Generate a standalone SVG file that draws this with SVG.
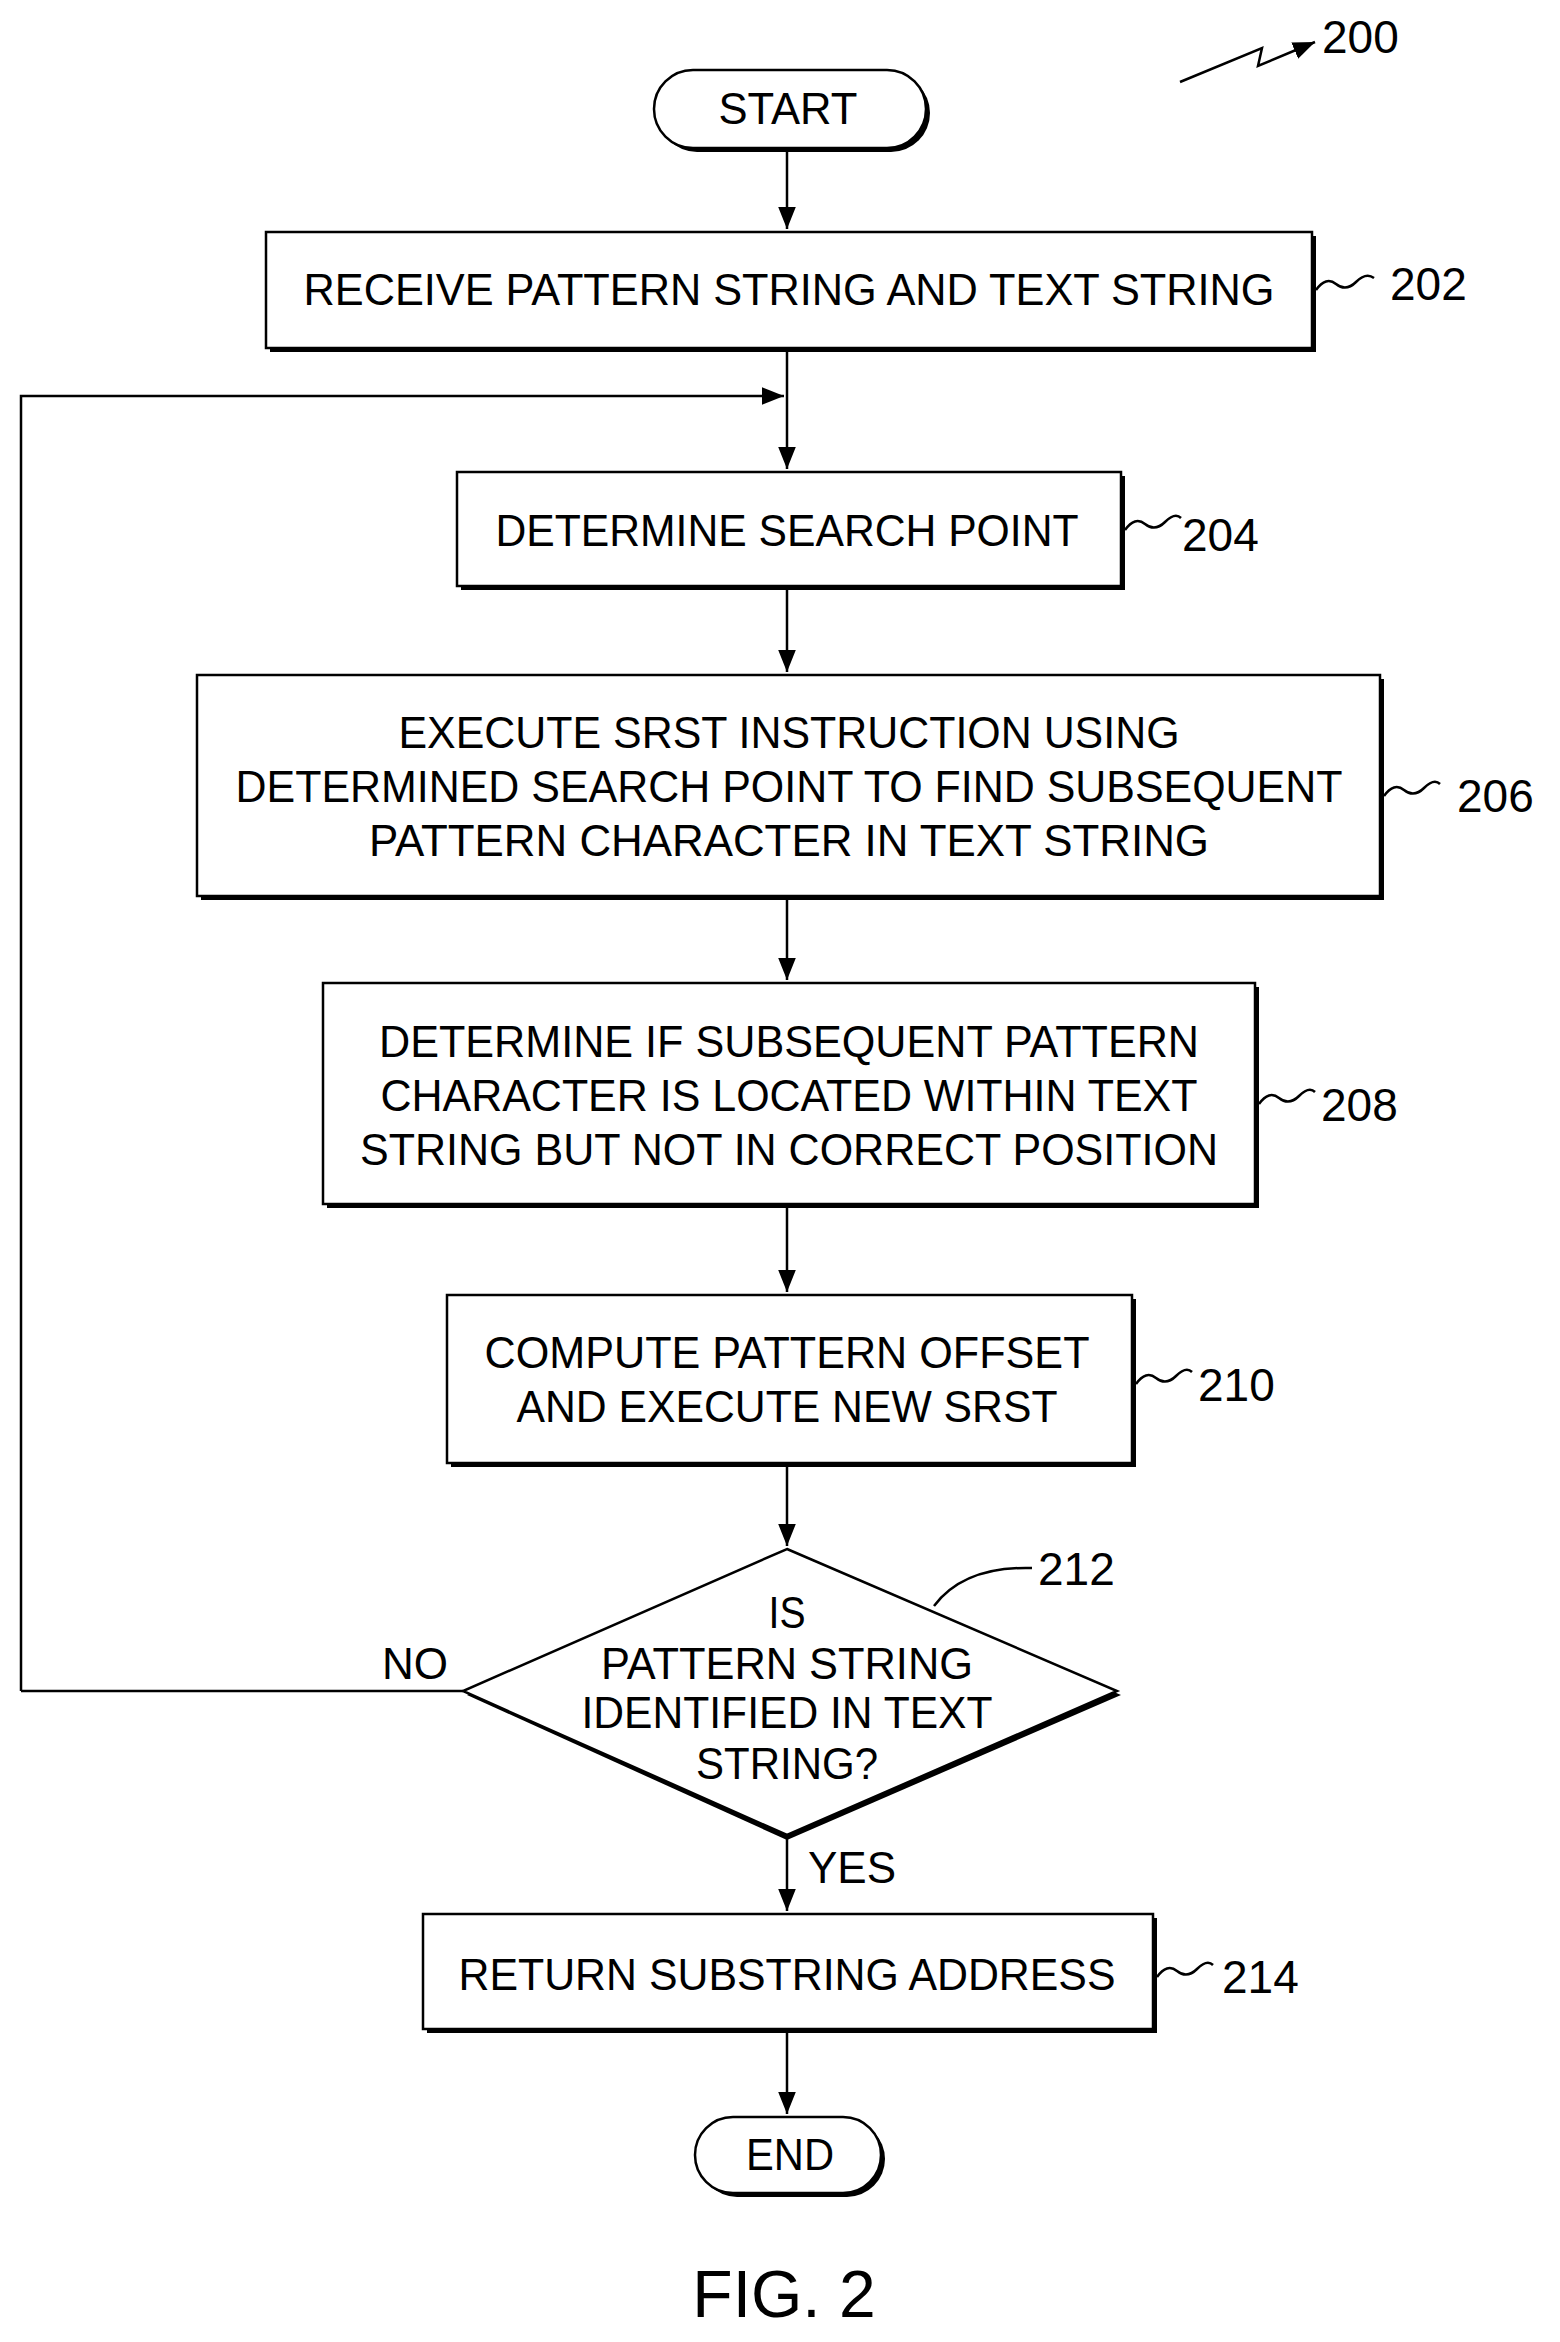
<svg xmlns="http://www.w3.org/2000/svg" width="1560" height="2342" viewBox="0 0 1560 2342">
<defs>
<style>
.b{fill:#fff;stroke:#000;stroke-width:2.5}
.s{fill:#000}
.l{fill:none;stroke:#000;stroke-width:2.5}
text{font-family:"Liberation Sans",Arial,sans-serif;font-size:44px;fill:#000;text-anchor:middle}
.r{font-size:46px;text-anchor:start}
</style>
<marker id="a" viewBox="0 0 10 10" refX="10" refY="5" markerWidth="12" markerHeight="12" markerUnits="userSpaceOnUse" orient="auto"><path d="M0,0 L10,5 L0,10 z"/></marker>
<marker id="ah" viewBox="0 0 10 10" refX="10" refY="5" markerWidth="22" markerHeight="22" markerUnits="userSpaceOnUse" orient="auto"><path d="M0,1 L10,5 L0,9 z"/></marker>
</defs>
<rect width="1560" height="2342" fill="#fff"/>
<g id="connectors">
<path class="l" d="M787,148 V229" marker-end="url(#ah)"/>
<path class="l" d="M787,348 V469" marker-end="url(#ah)"/>
<path class="l" d="M21,1691 H463 M21,1691 V396 H784" marker-end="url(#ah)"/>
<path class="l" d="M787,586 V672" marker-end="url(#ah)"/>
<path class="l" d="M787,896 V980" marker-end="url(#ah)"/>
<path class="l" d="M787,1204 V1292" marker-end="url(#ah)"/>
<path class="l" d="M787,1463 V1546" marker-end="url(#ah)"/>
<path class="l" d="M787,1835 V1911" marker-end="url(#ah)"/>
<path class="l" d="M787,2029 V2114" marker-end="url(#ah)"/>
<text x="415" y="1679">NO</text>
<text x="852" y="1883">YES</text>
</g>
<g id="n200"><path class="l" d="M1180,82 L1262,48 L1258,66 L1315,42" marker-end="url(#ah)"/><text class="r" x="1322" y="53">200</text></g>
<g id="start"><rect class="s" x="658" y="74" width="272" height="78" rx="39"/><rect class="b" x="654" y="70" width="272" height="78" rx="39"/><text x="788" y="124" textLength="139" lengthAdjust="spacingAndGlyphs">START</text></g>
<g id="n202"><rect class="s" x="270" y="236" width="1046" height="116"/><rect class="b" x="266" y="232" width="1046" height="116"/><text x="789" y="305" textLength="971" lengthAdjust="spacingAndGlyphs">RECEIVE PATTERN STRING AND TEXT STRING</text><path class="l" d="M1316,290 q10,-14 20,-6 t20,-2 t18,-4"/><text class="r" x="1390" y="300">202</text></g>
<g id="n204"><rect class="s" x="461" y="476" width="664" height="114"/><rect class="b" x="457" y="472" width="664" height="114"/><text x="787" y="546" textLength="583" lengthAdjust="spacingAndGlyphs">DETERMINE SEARCH POINT</text><path class="l" d="M1125,530 q10,-14 20,-6 t20,-2 t16,-4"/><text class="r" x="1182" y="551">204</text></g>
<g id="n206"><rect class="s" x="201" y="679" width="1183" height="221"/><rect class="b" x="197" y="675" width="1183" height="221"/><text x="789" y="748" textLength="781" lengthAdjust="spacingAndGlyphs">EXECUTE SRST INSTRUCTION USING</text><text x="789" y="802" textLength="1107" lengthAdjust="spacingAndGlyphs">DETERMINED SEARCH POINT TO FIND SUBSEQUENT</text><text x="789" y="856" textLength="840" lengthAdjust="spacingAndGlyphs">PATTERN CHARACTER  IN TEXT STRING</text><path class="l" d="M1384,796 q10,-14 20,-6 t20,-2 t16,-4"/><text class="r" x="1457" y="812">206</text></g>
<g id="n208"><rect class="s" x="327" y="987" width="932" height="221"/><rect class="b" x="323" y="983" width="932" height="221"/><text x="789" y="1057" textLength="820" lengthAdjust="spacingAndGlyphs">DETERMINE IF SUBSEQUENT PATTERN</text><text x="789" y="1111" textLength="817" lengthAdjust="spacingAndGlyphs">CHARACTER IS LOCATED WITHIN TEXT</text><text x="789" y="1165" textLength="858" lengthAdjust="spacingAndGlyphs">STRING BUT NOT IN CORRECT POSITION</text><path class="l" d="M1259,1104 q10,-14 20,-6 t20,-2 t16,-4"/><text class="r" x="1321" y="1121">208</text></g>
<g id="n210"><rect class="s" x="451" y="1299" width="685" height="168"/><rect class="b" x="447" y="1295" width="685" height="168"/><text x="787" y="1368" textLength="605" lengthAdjust="spacingAndGlyphs">COMPUTE PATTERN OFFSET</text><text x="787" y="1422" textLength="541" lengthAdjust="spacingAndGlyphs">AND EXECUTE NEW SRST</text><path class="l" d="M1136,1384 q10,-14 20,-6 t20,-2 t16,-4"/><text class="r" x="1198" y="1401">210</text></g>
<g id="n212"><path class="s" d="M787,1553 L1121,1695 L787,1840 L467,1695 z"/><path class="b" d="M787,1549 L1117,1691 L787,1835 L463,1691 z"/><text x="787" y="1628" textLength="37" lengthAdjust="spacingAndGlyphs">IS</text><text x="787" y="1679" textLength="372" lengthAdjust="spacingAndGlyphs">PATTERN STRING</text><text x="787" y="1728" textLength="411" lengthAdjust="spacingAndGlyphs">IDENTIFIED IN TEXT</text><text x="787" y="1779" textLength="182" lengthAdjust="spacingAndGlyphs">STRING?</text><path class="l" d="M934,1606 q30,-40 98,-38"/><text class="r" x="1038" y="1585">212</text></g>
<g id="n214"><rect class="s" x="427" y="1918" width="730" height="115"/><rect class="b" x="423" y="1914" width="730" height="115"/><text x="787" y="1990" textLength="657" lengthAdjust="spacingAndGlyphs">RETURN SUBSTRING ADDRESS</text><path class="l" d="M1157,1977 q10,-14 20,-6 t20,-2 t16,-4"/><text class="r" x="1222" y="1993">214</text></g>
<g id="end"><rect class="s" x="699" y="2121" width="186" height="76" rx="38"/><rect class="b" x="695" y="2117" width="186" height="76" rx="38"/><text x="790" y="2170" textLength="88" lengthAdjust="spacingAndGlyphs">END</text></g>
<text x="784" y="2317" style="font-size:66px">FIG. 2</text>
</svg>
